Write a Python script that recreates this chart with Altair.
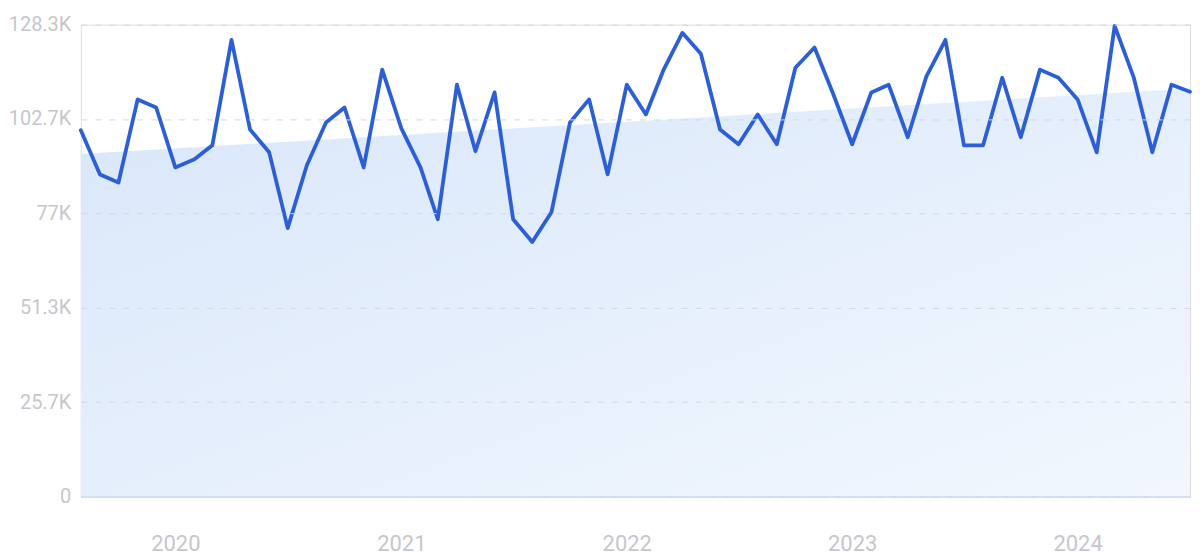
import altair as alt
import pandas as pd

# Monthly values (thousands), Aug 2019 .. Jul 2024
months = pd.date_range("2019-08-01", periods=60, freq="MS").strftime("%Y-%m-%d").tolist()
values_k = [
    99.6, 87.6, 85.4, 108.0, 105.8, 89.5, 91.7, 95.5, 124.2, 99.8,
    93.6, 73.0, 90.1, 101.7, 105.8, 89.5, 116.1, 100.1, 89.5, 75.4,
    112.0, 93.9, 109.9, 75.4, 69.2, 77.3, 101.7, 108.0, 87.6, 112.0,
    103.9, 115.8, 126.1, 120.4, 99.8, 95.8, 103.9, 95.8, 116.6, 122.1,
    109.6, 95.8, 109.9, 112.0, 97.7, 114.2, 124.2, 95.5, 95.5, 113.9,
    97.7, 116.1, 113.9, 108.0, 93.6, 128.0, 113.9, 93.6, 112.0, 110.1,
]
y_max = 128333
y_ticks = [0, 25667, 51333, 77000, 102667, 128333]
year_ticks = ["2020-01-01", "2021-01-01", "2022-01-01", "2023-01-01", "2024-01-01"]

df = pd.DataFrame({"date": months, "value": [v * 1000 for v in values_k]})

label_color = "#c5c7cd"
font = "Roboto"

x_enc = alt.X(
    "date:T",
    scale=alt.Scale(domain=[months[0], months[-1]], nice=False, padding=0),
    axis=alt.Axis(
        title=None,
        values=[alt.DateTime(year=int(d[:4]), month=1, date=1) for d in year_ticks],
        format="%Y",
        ticks=False,
        domain=True,
        domainColor="#c9dbf3",
        domainWidth=1.5,
        grid=False,
        labelFont=font,
        labelFontSize=22,
        labelColor=label_color,
        labelPadding=47,
        labelBaseline="middle",
        labelAlign="center",
        zindex=1,
    ),
)

y_enc = alt.Y(
    "value:Q",
    scale=alt.Scale(domain=[0, y_max], nice=False, zero=True),
    axis=alt.Axis(
        title=None,
        values=y_ticks,
        labelExpr="datum.value == 0 ? '0' : format(datum.value / 1000, '.1~f') + 'K'",
        ticks=False,
        domain=False,
        grid=True,
        gridColor="#cfd8e6",
        gridDash=[6, 8],
        gridWidth=1,
        labelFont=font,
        labelFontSize=20,
        labelColor=label_color,
        labelPadding=10,
        zindex=1,
    ),
)

gradient = alt.Gradient(
    gradient="linear",
    stops=[
        alt.GradientStop(color="#d9e7fa", offset=0),
        alt.GradientStop(color="#f2f7fe", offset=1),
    ],
    x1=0, y1=0, x2=1, y2=1,
)

trend = (
    alt.Chart(df)
    .transform_regression("date", "value", method="linear")
    .mark_area(color=gradient, opacity=1)
    .encode(x=x_enc, y=y_enc)
)

line = (
    alt.Chart(df)
    .mark_line(color="#2c5fd5", strokeWidth=3.8, strokeJoin="round", strokeCap="round")
    .encode(x=x_enc, y=y_enc)
)

chart = (
    alt.layer(trend, line)
    .properties(
        width=1112,
        height=473,
        autosize=alt.AutoSizeParams(type="none"),
        padding={"left": 73, "top": 16, "right": 2, "bottom": 58},
    )
    .configure_view(strokeWidth=0, strokeOpacity=0)
    .configure(background="white")
)

chart.save("out.html", embed_options={"renderer": "svg", "actions": False})
